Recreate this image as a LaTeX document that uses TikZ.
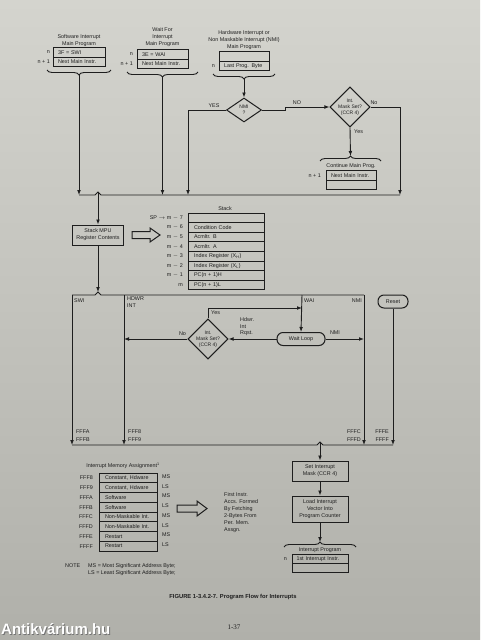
\documentclass[tikz,border=0pt]{standalone}
\usepackage{fontspec}
\setmainfont{Liberation Sans}
\newfontfamily\pagenumfont{Liberation Serif}
\usetikzlibrary{arrows.meta,decorations.pathreplacing,shapes.geometric,calc}
\definecolor{paperTop}{RGB}{212,212,206}
\definecolor{paperBot}{RGB}{176,176,170}
\definecolor{ink}{RGB}{30,30,30}
\begin{document}
\begin{tikzpicture}[x=1pt,y=-1pt,
  every node/.style={font=\fontsize{5.4}{7}\selectfont, text=ink, inner sep=0pt},
  ln/.style={draw=ink, line width=0.9pt},
  arr/.style={ln, -{Latex[length=5pt,width=3.8pt]}},
  brc/.style={ln, decorate, decoration={brace, amplitude=5pt}},
  brcdown/.style={ln, decorate, decoration={brace, amplitude=5pt, mirror}},
  rowL/.style={draw=ink, line width=0.9pt, minimum height=9.4pt, inner ysep=0pt, inner xsep=5pt, text width=#1, align=left},
  procbox/.style={draw=ink, line width=1pt, align=center, inner sep=0pt},
  dia/.style={draw=ink, line width=1pt, shape=diamond, aspect=1, inner sep=0pt, align=center, font=\fontsize{5}{6}\selectfont},
  term/.style={draw=ink, line width=1pt, rounded corners=6pt, inner sep=0pt},
  hollow/.style={draw=ink, line width=1pt, fill=none}
]
\shade[top color=paperTop, bottom color=paperBot] (0,0) rectangle (480,640);
\useasboundingbox (0,0) rectangle (480,640);

% ---------- top: three main programs ----------
\node[align=center] (swT) at (79,40.5) {Software Interrupt\\Main Program};
\node[rowL=42pt] (swA) at (79,52.5) {3F = SWI};
\node[rowL=42pt] (swB) at (79,61.9) {Next Main Instr.};
\node[anchor=east] (swn) at (50,52.5) {n};
\node[anchor=east] (swn1) at (50,61.9) {n + 1};
\draw[brcdown] (47,70) -- (111,70);
\coordinate (swTip) at (79,75);

\node[align=center] (waT) at (162.5,37) {Wait For\\Interrupt\\Main Program};
\node[rowL=41pt] (waA) at (162.5,54.5) {3E = WAI};
\node[rowL=41pt] (waB) at (162.5,63.9) {Next Main Instr.};
\node[anchor=east] (wan) at (133,54.5) {n};
\node[anchor=east] (wan1) at (133,63.9) {n + 1};
\draw[brcdown] (127,72) -- (198,72);
\coordinate (waTip) at (162.5,77);

\node[align=center] (hwT) at (244,40) {Hardware Interrupt or\\Non Maskable Interrupt (NMI)\\Main Program};
\node[rowL=40pt] (hwA) at (244,56.5) {};
\node[rowL=40pt] (hwB) at (244,65.9) {Last Prog. Byte};
\node[anchor=east] (hwn) at (215,65.9) {n};
\draw[brcdown] (213,74) -- (275,74);
\coordinate (hwTip) at (244,79);

% NMI decision
\node[dia, minimum width=35pt, minimum height=24pt, aspect=1.4] (nmi) at (244,110) {NMI\\?};
\draw[arr] (hwTip) -- (nmi.north);
\node[dia, minimum width=37pt, minimum height=39pt] (mask1) at (350,107) {Int.\\Mask Set?\\(CCR 4)};
\draw[arr] (nmi.east) -- (285,110) -- (285,107) -- (mask1.west);
\node (noA) at (297,103) {NO};
\node (yesA) at (214,106) {YES};
\node (noB) at (374,103) {No};
\node[anchor=west] (yesB) at (354,132) {Yes};

% continue main program
\draw[brc] (320,161) -- (381,161);
\coordinate (contTip) at (350.5,156);
\draw[arr] (mask1.south) -- (contTip);
\node (contT) at (351,166) {Continue Main Prog.};
\node[rowL=40pt] (ctA) at (351,175.5) {Next Main Instr.};
\node[rowL=40pt] (ctB) at (351,184.9) {};
\node[anchor=east] (ctn) at (321,175.5) {n + 1};

% upper bus
\coordinate (swBus) at (79,195);
\coordinate (waBus) at (162.5,195);
\coordinate (yesBus) at (188,195);
\coordinate (noBus) at (400,195);
\coordinate (busTip) at (98,192);
\draw[ln] (swBus) -- (95,195) -- (busTip) -- (101,195) -- (noBus);
\draw[arr] (swTip) -- (swBus);
\draw[arr] (waTip) -- (waBus);
\draw[arr] (nmi.west) -| (yesBus);
\draw[arr] (mask1.east) -| (noBus);

% stack MPU
\node[procbox, minimum width=51pt, minimum height=20pt] (stk) at (98,235) {Stack MPU\\Register Contents};
\draw[arr] (busTip) -- (stk.north);
\draw[hollow] (132,231.5) -- (150,231.5) -- (150,228) -- (160,235) -- (150,242) -- (150,238.5) -- (132,238.5) -- cycle;

% stack table
\node (stT) at (225,209) {Stack};
\foreach \i/\lab/\txt in {0/{SP $\to$ m $-$ 7}/{},
  1/{m $-$ 6}/{Condition Code},
  2/{m $-$ 5}/{Acmltr. B},
  3/{m $-$ 4}/{Acmltr. A},
  4/{m $-$ 3}/{Index Register (X\textsubscript{H})},
  5/{m $-$ 2}/{Index Register (X\textsubscript{L})},
  6/{m $-$ 1}/{PC(n + 1)H},
  7/{m}/{PC(n + 1)L}}{
  \node[rowL=64pt, inner xsep=6pt, minimum height=9.6pt] (st\i) at (226,217.8+9.6*\i) {\txt};
  \node[anchor=east] (stl\i) at (183,217.8+9.6*\i) {\lab};
}

% ---------- middle frame ----------
\coordinate (frTip) at (98,292);
\coordinate (swiTop) at (72,295);
\coordinate (hdTop) at (124,295);
\coordinate (waiTop) at (302,295);
\coordinate (nmiTop) at (364,295);
\draw[arr] (stk.south) -- (frTip);
\draw[ln] (swiTop) -- (95,295) -- (frTip) -- (101,295) -- (nmiTop);

\coordinate (swiBot) at (72,445);
\coordinate (hdBot) at (124,445);
\coordinate (nmiBot) at (364,445);
\coordinate (rstBot) at (393,445);
\coordinate (botTip) at (320,442);

\node[term, minimum width=30pt, minimum height=13pt] (reset) at (393,301.5) {Reset};
\node[term, minimum width=48pt, minimum height=13pt] (wait) at (301,339) {Wait Loop};
\node[dia, minimum width=39pt, minimum height=39pt] (mask2) at (208,339) {Int.\\Mask Set?\\(CCR 4)};
\coordinate (waiJ) at (302,308);
\coordinate (hdJ) at (124,339);
\coordinate (nmiJ) at (364,339);

\draw[arr] (swiTop) -- (swiBot);
\draw[arr] (hdTop) -- (hdBot);
\draw[arr] (waiTop) -- (wait.north);
\draw[arr] (nmiTop) -- (nmiBot);
\draw[arr] (reset.south) -- (rstBot);
\draw[arr] (mask2.north) |- (waiJ);
\draw[arr] (mask2.west) -- (hdJ);
\draw[arr] (wait.west) -- (mask2.east);
\draw[arr] (wait.east) -- (nmiJ);

\node[anchor=west] (lSWI) at (74,301) {SWI};
\node[anchor=north west, align=left] (lHD) at (127,297) {HDWR\\INT};
\node[anchor=west] (lWAI) at (304,301) {WAI};
\node[anchor=east] (lNMI) at (362,301) {NMI};
\node[anchor=west] (lYes) at (211,313) {Yes};
\node (lNo) at (182.5,334) {No};
\node[anchor=north west, align=left, font=\fontsize{5.4}{6.5}\selectfont] (lHR) at (240,317.5) {Hdwr.\\Int\\Rqst.};
\node (lNMI2) at (335,333) {NMI};

% bottom bus
\draw[ln] (swiBot) -- (317,445) -- (botTip) -- (323,445) -- (rstBot);
\node[anchor=west] (fa) at (76,432) {FFFA};
\node[anchor=west] (fb) at (76,440) {FFFB};
\node[anchor=west] (f8) at (128,432) {FFF8};
\node[anchor=west] (f9) at (128,440) {FFF9};
\node[anchor=east] (fc) at (361,432) {FFFC};
\node[anchor=east] (fd) at (361,440) {FFFD};
\node[anchor=east] (fe) at (389,432) {FFFE};
\node[anchor=east] (ff) at (389,440) {FFFF};

% ---------- lower right chain ----------
\node[procbox, minimum width=56pt, minimum height=20pt] (setm) at (320,471) {Set Interrupt\\Mask (CCR 4)};
\node[procbox, minimum width=56pt, minimum height=26pt] (load) at (320,509) {Load Interrupt\\Vector Into\\Program Counter};
\draw[arr] (botTip) -- (setm.north);
\draw[arr] (setm.south) -- (load.north);
\draw[brc] (284,547) -- (356,547);
\coordinate (ipTip) at (320,542);
\draw[arr] (load.south) -- (ipTip);
\node (ipT) at (320,550) {Interrupt Program};
\node[rowL=47pt, inner xsep=4.5pt] (ipA) at (320,558.7) {1st Interrupt Instr.};
\node[rowL=47pt, inner xsep=4.5pt] (ipB) at (320,568.1) {};
\node[anchor=east] (ipn) at (287,558.7) {n};

% ---------- memory assignment ----------
\node (mT) at (123,466) {Interrupt Memory Assignment\textsuperscript{1}};
\foreach \i/\adr/\txt/\ms in {0/FFF8/{Constant, Hdware}/MS,
  1/FFF9/{Constant, Hdware}/LS,
  2/FFFA/{Software}/MS,
  3/FFFB/{Software}/LS,
  4/FFFC/{Non-Maskable Int.}/MS,
  5/FFFD/{Non-Maskable Int.}/LS,
  6/FFFE/{Restart}/MS,
  7/FFFF/{Restart}/LS}{
  \node[rowL=46pt, inner xsep=6pt, minimum height=9.75pt] (m\i) at (128,477.9+9.75*\i) {\txt};
  \node[anchor=east] (ma\i) at (93,477.9+9.75*\i) {\adr};
  \node[anchor=west] (mm\i) at (162,476.6+9.75*\i) {\ms};
}
\draw[hollow] (177,505) -- (197,505) -- (197,501) -- (207,508.5) -- (197,516) -- (197,512) -- (177,512) -- cycle;
\node[anchor=north west, align=left] (fText) at (224,492.5) {First Instr.\\Accs. Formed\\By Fetching\\2-Bytes From\\Per. Mem.\\Assgn.};

\node[anchor=west] (noteL) at (65,566) {NOTE};
\node[anchor=west] (noteA) at (88,566) {MS = Most Significant Address Byte;};
\node[anchor=west] (noteB) at (88,573) {LS = Least Significant Address Byte;};

% caption
\node (cap) at (233,597) {\fontsize{5.8}{7}\selectfont\bfseries FIGURE 1-3.4.2-7. Program Flow for Interrupts};
\node (pg) at (234,627) {\pagenumfont\fontsize{7}{8}\selectfont 1-37};
\node[anchor=west, text=black!55] (wmS) at (1.8,629.8) {\fontsize{15}{16}\selectfont\bfseries Antikvárium.hu};
\node[anchor=west, text=white] (wm) at (1,629) {\fontsize{15}{16}\selectfont\bfseries Antikvárium.hu};
\end{tikzpicture}
\end{document}
